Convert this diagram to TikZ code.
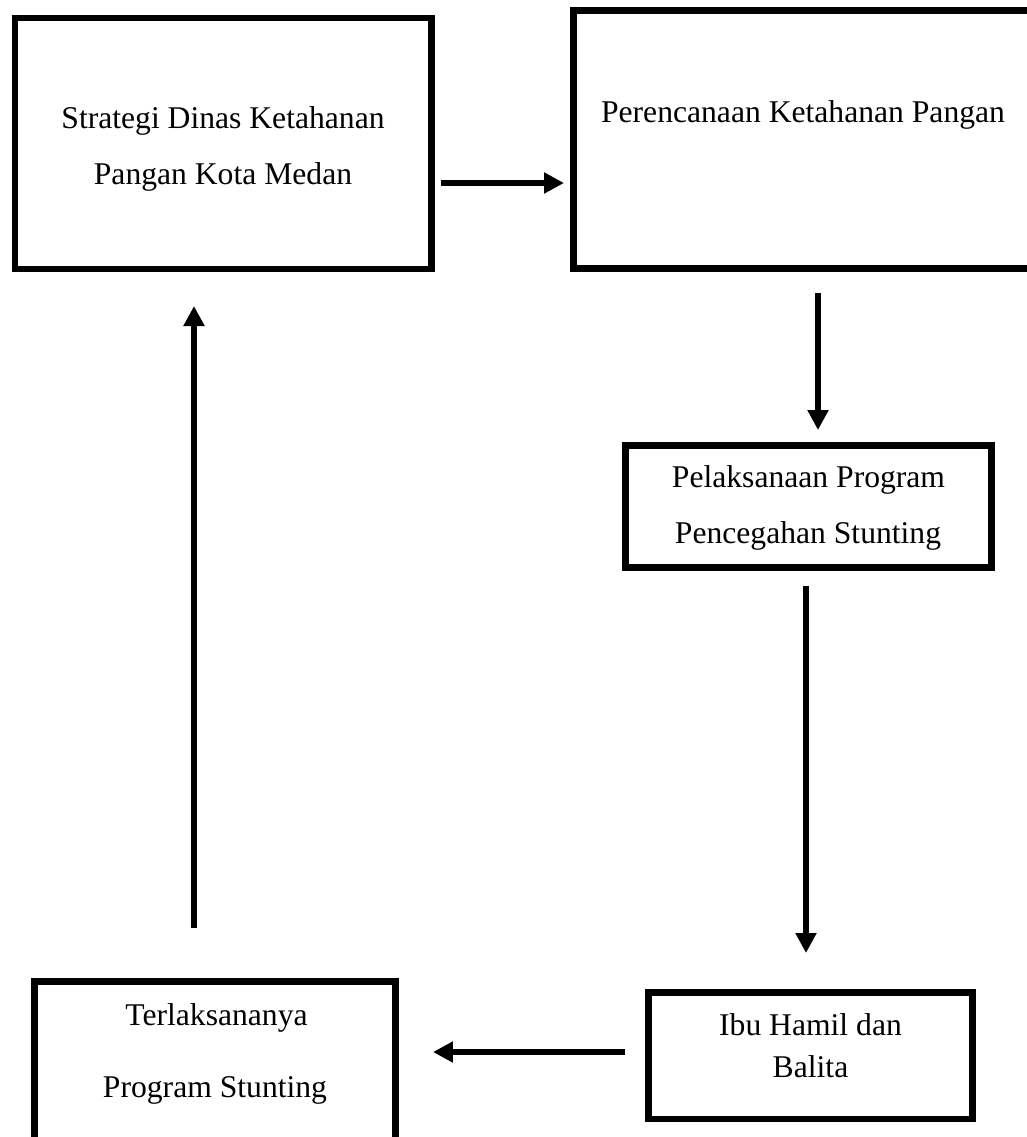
\documentclass[tikz,border=0pt]{standalone}
\usepackage{fontspec}
\setmainfont{Liberation Serif}
\usetikzlibrary{arrows.meta,calc}
\begin{document}
\begin{tikzpicture}[x={(0.02cm,0)},y={(0,-0.02cm)},
  box/.style={draw=black,line width=0.13cm,inner sep=0pt,fill=none},
  txt/.style={font=\fontsize{18}{22}\selectfont,inner sep=0pt,anchor=base},
  arr/.style={line width=0.13cm,-{Triangle[length=0.4cm,width=0.4cm]}}]
\useasboundingbox (0,0) rectangle (1027,1137);
\clip (0,0) rectangle (1027,1137);
% boxes
\node[box,minimum width=8.34cm,minimum height=5.015cm] (box1) at (223.25,143.4) {};
\node[box,minimum width=9.735cm,minimum height=5.17cm] (box2) at (816.6,139.5) {};
\node[box,minimum width=7.33cm,minimum height=2.45cm] (box3) at (808.5,506.5) {};
\node[box,minimum width=6.49cm,minimum height=2.53cm] (box4) at (810.5,1055.5) {};
\node[box,minimum width=7.23cm,minimum height=3.575cm] (box5) at (215,1070.6) {};
% texts
\node[txt] (t1a) at (223,128) {Strategi Dinas Ketahanan};
\node[txt] (t1b) at (223,184) {Pangan Kota Medan};
\node[txt] (t2) at (803,122) {Perencanaan Ketahanan Pangan};
\node[txt] (t3a) at (808.5,487) {Pelaksanaan Program};
\node[txt] (t3b) at (808,543) {Pencegahan Stunting};
\node[txt] (t4a) at (810.5,1035) {Ibu Hamil dan};
\node[txt] (t4b) at (810.5,1077) {Balita};
\node[txt] (t5a) at (216.5,1025) {Terlaksananya};
\node[txt] (t5b) at (215,1097) {Program Stunting};
% connectors
\draw[arr] ($(box1.east|-0,183)+(6,0)$) -- ($(box2.west|-0,183)+(-6,0)$);
\draw[arr] ($(box2.south-|818,0)+(0,21)$) -- ($(box3.north-|818,0)+(0,-12)$);
\draw[arr] ($(box3.south-|806,0)+(0,15)$) -- ($(box4.north-|806,0)+(0,-36)$);
\draw[arr] ($(box4.west|-0,1052)+(-20,0)$) -- ($(box5.east|-0,1052)+(34,0)$);
\draw[arr] ($(box5.north-|194,0)+(0,-50)$) -- ($(box1.south-|194,0)+(0,34)$);
\end{tikzpicture}
\end{document}
